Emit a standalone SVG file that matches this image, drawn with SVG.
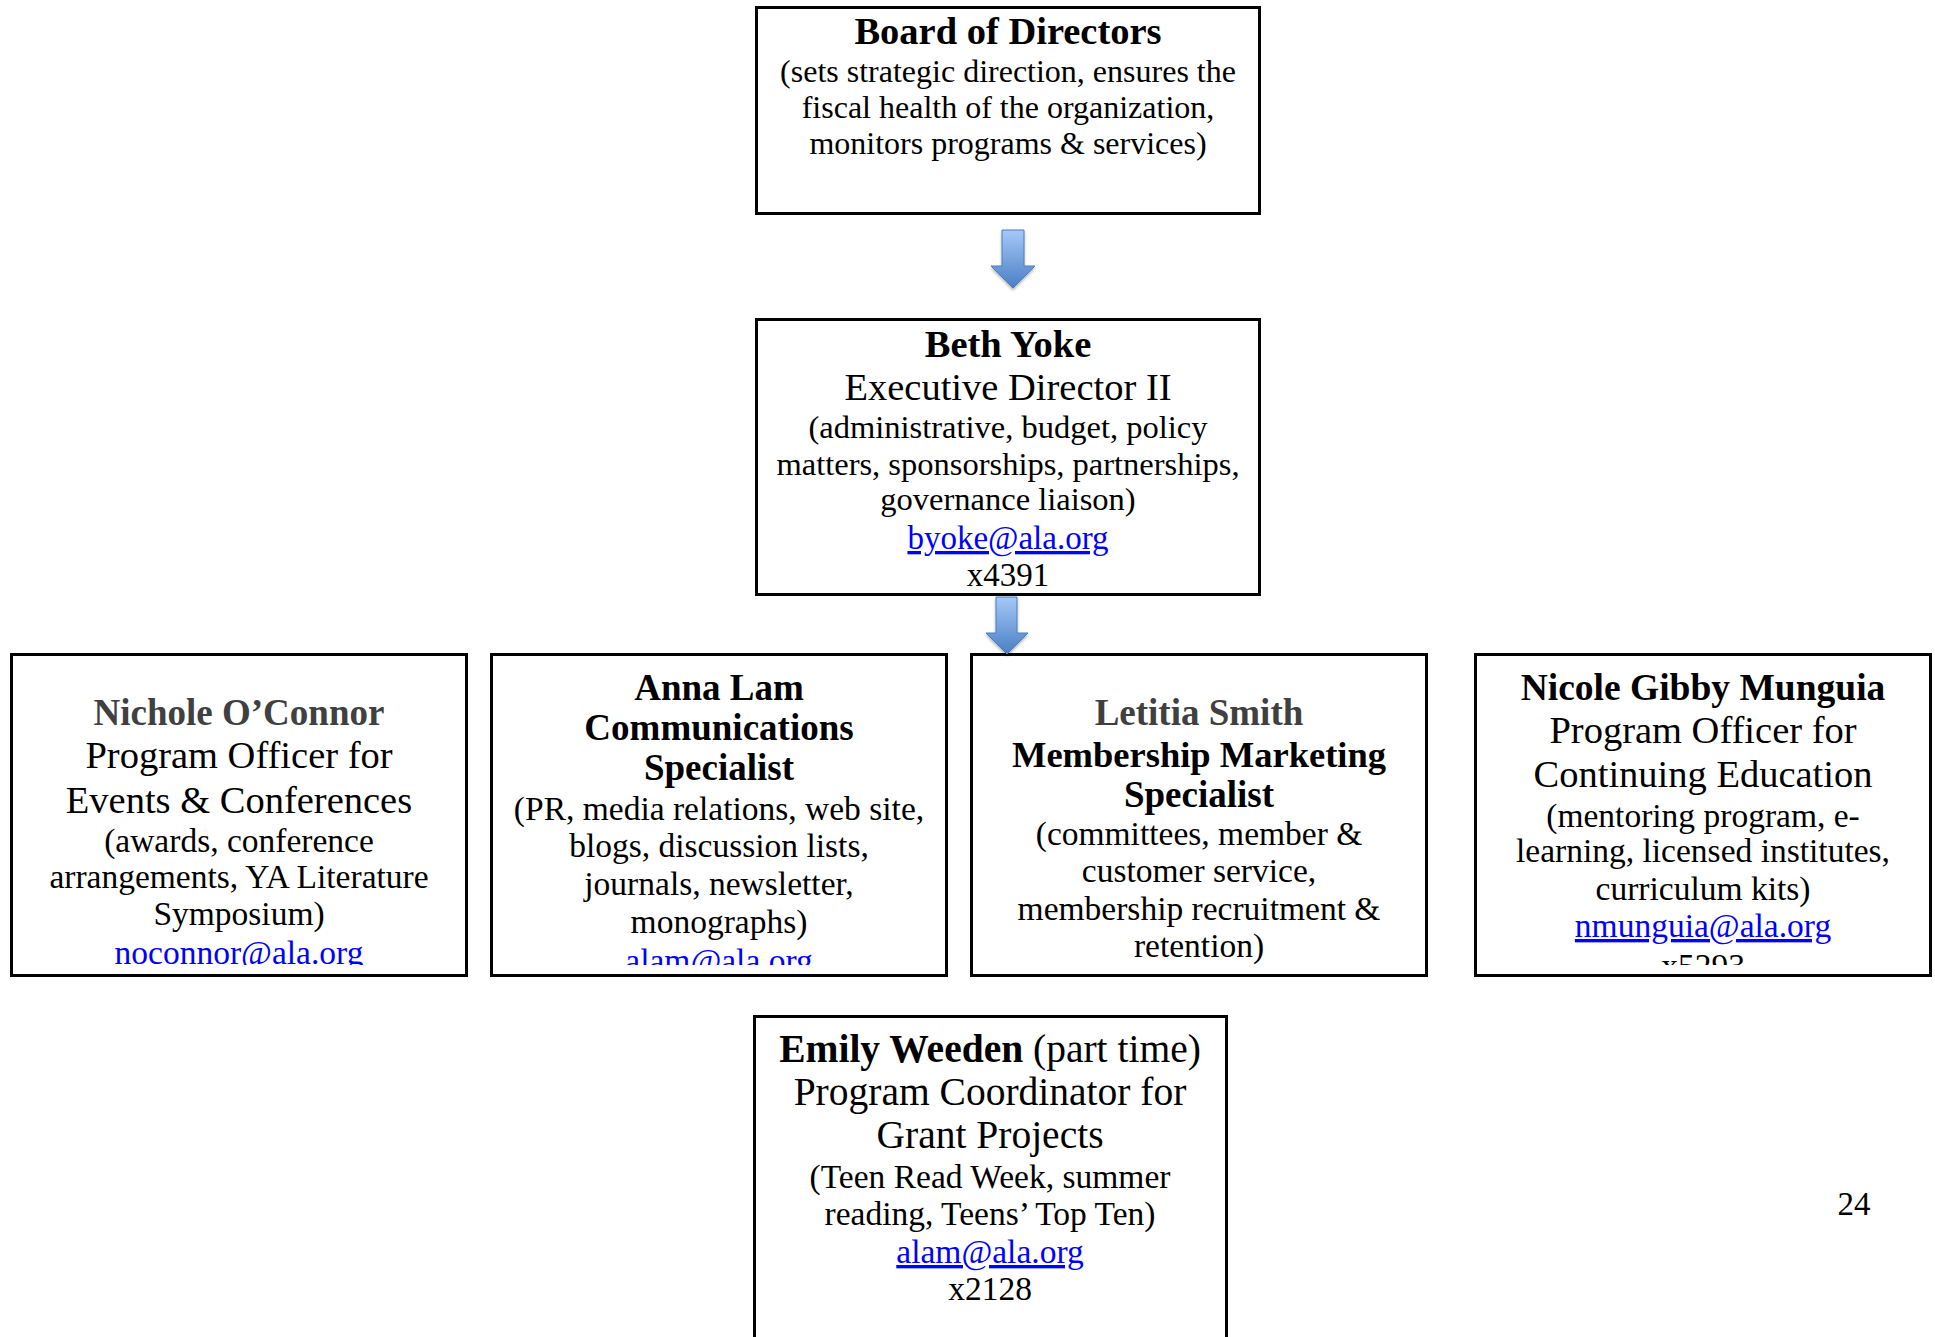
<svg xmlns="http://www.w3.org/2000/svg" width="1935" height="1337" viewBox="0 0 1935 1337">
<style>
.box{fill:#fff;stroke:#000;stroke-width:3}
.t{font-family:"Liberation Serif","Times New Roman",serif;text-anchor:middle;fill:#000}
.b{font-weight:bold}
.g{fill:#404040}
.link{fill:#0000ff;text-decoration:underline}
.arrow{fill:url(#ag);stroke:#4a7ebb;stroke-width:1;filter:url(#sh)}
</style>
<defs>
<linearGradient id="ag" x1="0" y1="0" x2="0" y2="1">
<stop offset="0" stop-color="#a6c8f7"/>
<stop offset="1" stop-color="#4a7fc6"/>
</linearGradient>
<filter id="sh" x="-30%" y="-20%" width="160%" height="150%">
<feDropShadow dx="0" dy="2" stdDeviation="1.5" flood-color="#000" flood-opacity="0.3"/>
</filter>
<clipPath id="c1"><rect x="10" y="654" width="458" height="311"/></clipPath>
<clipPath id="c2"><rect x="490" y="654" width="458" height="311"/></clipPath>
<clipPath id="c3"><rect x="970" y="654" width="458" height="311"/></clipPath>
<clipPath id="c4"><rect x="1474" y="654" width="458" height="311"/></clipPath>
</defs>
<rect width="1935" height="1337" fill="#fff"/>

<g id="node-board">
<rect class="box" x="756.5" y="7.5" width="503" height="206"/>
<text class="t b" x="1008" y="44" font-size="38.5">Board of Directors</text>
<text class="t" x="1008" y="82" font-size="32">(sets strategic direction, ensures the</text>
<text class="t" x="1008" y="118" font-size="32">fiscal health of the organization,</text>
<text class="t" x="1008" y="154" font-size="32">monitors programs &amp; services)</text>
</g>

<g id="node-beth">
<rect class="box" x="756.5" y="319.5" width="503" height="275"/>
<text class="t b" x="1008" y="357" font-size="38.5">Beth Yoke</text>
<text class="t" x="1008" y="400" font-size="38.5">Executive Director II</text>
<text class="t" x="1008" y="438" font-size="32.5">(administrative, budget, policy</text>
<text class="t" x="1008" y="475" font-size="32.5">matters, sponsorships, partnerships,</text>
<text class="t" x="1008" y="510" font-size="32.5">governance liaison)</text>
<text class="t link" x="1008" y="549" font-size="33">byoke@ala.org</text>
<text class="t" x="1008" y="586" font-size="33">x4391</text>
</g>

<g id="node-oconnor">
<rect class="box" x="11.5" y="654.5" width="455" height="321"/>
<g clip-path="url(#c1)">
<text class="t b g" x="239" y="725" font-size="37">Nichole O’Connor</text>
<text class="t" x="239" y="768" font-size="38.5">Program Officer for</text>
<text class="t" x="239" y="813" font-size="38.5">Events &amp; Conferences</text>
<text class="t" x="239" y="852" font-size="33.5">(awards, conference</text>
<text class="t" x="239" y="888" font-size="33.5">arrangements, YA Literature</text>
<text class="t" x="239" y="925" font-size="33.5">Symposium)</text>
<text class="t link" x="239" y="964" font-size="33.5">noconnor@ala.org</text>
</g>
</g>

<g id="node-lam">
<rect class="box" x="491.5" y="654.5" width="455" height="321"/>
<g clip-path="url(#c2)">
<text class="t b" x="719" y="700" font-size="37">Anna Lam</text>
<text class="t b" x="719" y="740" font-size="37">Communications</text>
<text class="t b" x="719" y="780" font-size="37">Specialist</text>
<text class="t" x="719" y="820" font-size="33.5">(PR, media relations, web site,</text>
<text class="t" x="719" y="857" font-size="33.5">blogs, discussion lists,</text>
<text class="t" x="719" y="895" font-size="33.5">journals, newsletter,</text>
<text class="t" x="719" y="933" font-size="33.5">monographs)</text>
<text class="t link" x="719" y="972" font-size="33.5">alam@ala.org</text>
</g>
</g>

<g id="node-smith">
<rect class="box" x="971.5" y="654.5" width="455" height="321"/>
<g clip-path="url(#c3)">
<text class="t b g" x="1199" y="725" font-size="37">Letitia Smith</text>
<text class="t b" x="1199" y="767" font-size="36.5">Membership Marketing</text>
<text class="t b" x="1199" y="807" font-size="37">Specialist</text>
<text class="t" x="1199" y="845" font-size="33.5">(committees, member &amp;</text>
<text class="t" x="1199" y="882" font-size="33.5">customer service,</text>
<text class="t" x="1199" y="920" font-size="33.5">membership recruitment &amp;</text>
<text class="t" x="1199" y="957" font-size="33.5">retention)</text>
</g>
</g>

<g id="node-munguia">
<rect class="box" x="1475.5" y="654.5" width="455" height="321"/>
<g clip-path="url(#c4)">
<text class="t b" x="1703" y="700" font-size="37.5">Nicole Gibby Munguia</text>
<text class="t" x="1703" y="743" font-size="38.5">Program Officer for</text>
<text class="t" x="1703" y="787" font-size="38.5">Continuing Education</text>
<text class="t" x="1703" y="827" font-size="33.5">(mentoring program, e-</text>
<text class="t" x="1703" y="862" font-size="33.5">learning, licensed institutes,</text>
<text class="t" x="1703" y="900" font-size="33.5">curriculum kits)</text>
<text class="t link" x="1703" y="937" font-size="33.5">nmunguia@ala.org</text>
<text class="t" x="1703" y="977" font-size="33.5">x5293</text>
</g>
</g>

<g id="node-weeden">
<rect class="box" x="754.5" y="1016.5" width="472" height="400"/>
<text class="t" x="990" y="1062" font-size="39.5"><tspan class="b">Emily Weeden</tspan> (part time)</text>
<text class="t" x="990" y="1105" font-size="39.5">Program Coordinator for</text>
<text class="t" x="990" y="1148" font-size="39.5">Grant Projects</text>
<text class="t" x="990" y="1188" font-size="33.5">(Teen Read Week, summer</text>
<text class="t" x="990" y="1225" font-size="33.5">reading, Teens’ Top Ten)</text>
<text class="t link" x="990" y="1263" font-size="33.5">alam@ala.org</text>
<text class="t" x="990" y="1300" font-size="33.5">x2128</text>
</g>

<g id="connectors">
<path class="arrow" d="M1002,230 H1024 V266 H1035 L1013,288 L991,266 H1002 Z"/>
<path class="arrow" d="M996,597 H1017 V633 H1028 L1007,654 L986,633 H996 Z"/>
</g>

<text id="page-number" class="t" x="1854" y="1215" font-size="33">24</text>
</svg>
